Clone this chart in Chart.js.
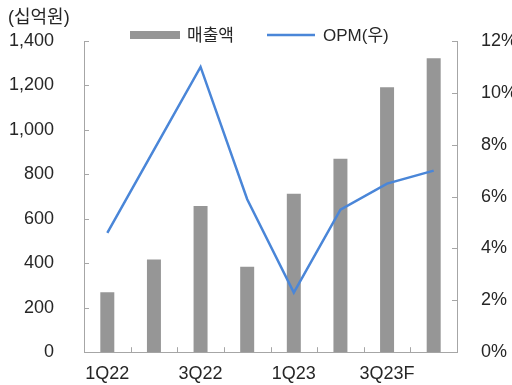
<!DOCTYPE html>
<html>
<head>
<meta charset="utf-8">
<script src="https://cdn.jsdelivr.net/npm/chart.js@4.4.0/dist/chart.umd.min.js"></script>
<style>
  html, body { margin: 0; padding: 0; background: #fff; }
  #wrap { position: relative; width: 512px; height: 385px; }
</style>
</head>
<body>
<div id="wrap"><canvas id="chart" width="512" height="385"></canvas></div>
<script>
'use strict';
const categories = ['1Q22', '2Q22', '3Q22', '4Q22', '1Q23', '2Q23', '3Q23F', '4Q23F'];
const revenue = [270, 417, 658, 384, 713, 870, 1192, 1322];
const opm = [4.6, 7.8, 11.0, 5.9, 2.3, 5.5, 6.5, 7.0];
const seriesNames = ['매출액', 'OPM(우)'];
const unitLabel = '(십억원)';

const fontFamily = '"Liberation Sans", "Noto Sans CJK KR", sans-serif';
const textColor = '#262626';
const axisColor = '#a6a6a6';
const barColor = '#969696';
const lineColor = '#4a86d8';

// tick marks drawn inside the plot, plus legend and unit label
const decorations = {
  id: 'decorations',
  afterDraw(chart) {
    const ctx = chart.ctx;
    const x = chart.scales.x;
    const y = chart.scales.y;
    const y1 = chart.scales.y1;
    ctx.save();
    ctx.strokeStyle = axisColor;
    ctx.lineWidth = 1;
    ctx.beginPath();
    for (let i = 1; i < categories.length; i++) {
      const px = Math.round(x.getPixelForValue(i - 0.5)) + 0.5;
      ctx.moveTo(px, x.top);
      ctx.lineTo(px, x.top - 5);
    }
    y.ticks.forEach(t => {
      const py = Math.round(y.getPixelForValue(t.value)) + 0.5;
      ctx.moveTo(y.right, py);
      ctx.lineTo(y.right + 5, py);
    });
    y1.ticks.forEach(t => {
      const py = Math.round(y1.getPixelForValue(t.value)) + 0.5;
      ctx.moveTo(y1.left, py);
      ctx.lineTo(y1.left - 5, py);
    });
    ctx.stroke();

    // legend
    ctx.fillStyle = barColor;
    ctx.fillRect(130, 31, 50, 8);
    ctx.strokeStyle = lineColor;
    ctx.lineWidth = 2.5;
    ctx.beginPath();
    ctx.moveTo(267, 35);
    ctx.lineTo(315, 35);
    ctx.stroke();
    ctx.fillStyle = textColor;
    ctx.font = '17px ' + fontFamily;
    ctx.textBaseline = 'middle';
    ctx.textAlign = 'left';
    ctx.fillText(seriesNames[0], 187, 36);
    ctx.fillText(seriesNames[1], 323, 36);
    ctx.font = '18px ' + fontFamily;
    ctx.fillText(unitLabel, 8, 18);
    ctx.restore();
  }
};

new Chart(document.getElementById('chart').getContext('2d'), {
  type: 'bar',
  data: {
    labels: categories,
    datasets: [
      {
        type: 'line',
        label: seriesNames[1],
        data: opm,
        yAxisID: 'y1',
        borderColor: lineColor,
        borderWidth: 2.5,
        pointRadius: 0,
        tension: 0,
        order: 1
      },
      {
        label: seriesNames[0],
        data: revenue,
        yAxisID: 'y',
        backgroundColor: barColor,
        categoryPercentage: 1,
        barPercentage: 0.3,
        order: 2
      }
    ]
  },
  options: {
    responsive: false,
    animation: false,
    layout: { padding: { top: 41, left: 0, right: 0, bottom: 0 } },
    plugins: { legend: { display: false }, tooltip: { enabled: false } },
    scales: {
      x: {
        grid: { display: false },
        border: { display: true, color: axisColor },
        ticks: {
          autoSkip: false,
          maxRotation: 0,
          padding: 3,
          color: textColor,
          font: { family: fontFamily, size: 18 },
          callback: (v, i) => (i % 2 === 0 ? categories[i] : '')
        },
        afterFit: s => { s.height = 32; }
      },
      y: {
        position: 'left',
        min: 0,
        max: 1400,
        grid: { display: false },
        border: { display: true, color: axisColor },
        ticks: {
          stepSize: 200,
          padding: 22,
          color: textColor,
          font: { family: fontFamily, size: 18 },
          callback: v => v.toLocaleString('en-US')
        },
        afterFit: s => { s.width = 84; }
      },
      y1: {
        position: 'right',
        min: 0,
        max: 12,
        grid: { display: false },
        border: { display: true, color: axisColor },
        ticks: {
          stepSize: 2,
          padding: 16,
          color: textColor,
          font: { family: fontFamily, size: 18 },
          callback: v => v + '%'
        },
        afterFit: s => { s.width = 55; }
      }
    }
  },
  plugins: [decorations]
});
</script>
</body>
</html>
